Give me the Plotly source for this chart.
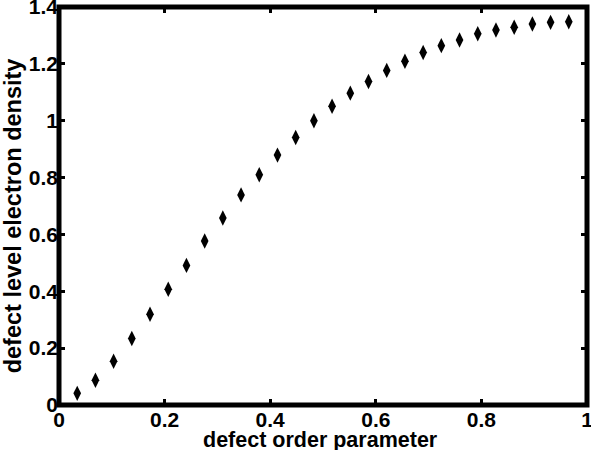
import plotly.graph_objects as go

order_param = [0.0345, 0.0690, 0.1034, 0.1379, 0.1724, 0.2069, 0.2414, 0.2759,
               0.3103, 0.3448, 0.3793, 0.4138, 0.4483, 0.4828, 0.5172, 0.5517,
               0.5862, 0.6207, 0.6552, 0.6897, 0.7241, 0.7586, 0.7931, 0.8276,
               0.8621, 0.8966, 0.9310, 0.9655]
electron_density = [0.041, 0.087, 0.154, 0.234, 0.319, 0.407, 0.491, 0.577,
                    0.658, 0.739, 0.810, 0.879, 0.941, 1.000, 1.051, 1.097,
                    1.138, 1.177, 1.209, 1.240, 1.264, 1.284, 1.306, 1.319,
                    1.329, 1.340, 1.346, 1.348]
x_title = "defect order parameter"
y_title = "defect level electron density"

family = "Liberation Sans, Arial, sans-serif"
tick_font = dict(family=family, size=21, color="black", weight="bold")

fig = go.Figure(go.Scatter(
    x=order_param, y=electron_density, mode="markers",
    marker=dict(symbol="diamond-tall", size=11, color="black"),
    showlegend=False, cliponaxis=False,
))

axis_common = dict(
    showgrid=False, zeroline=False, showline=False, automargin=False,
    mirror="allticks", ticks="inside", ticklen=6, tickwidth=3, tickcolor="black",
    dtick=0.2, tickfont=tick_font, ticklabeloverflow="allow",
)

fig.update_layout(
    width=591, height=450,
    margin=dict(l=59, r=4, t=7, b=45),
    plot_bgcolor="white", paper_bgcolor="white",
    font=tick_font,
    xaxis=dict(range=[0, 1], ticklabelstandoff=0, **axis_common),
    yaxis=dict(range=[0, 1.4], ticklabelstandoff=0, **axis_common),
    shapes=[dict(type="rect", xref="paper", yref="paper", x0=0, x1=1, y0=0, y1=1,
                 line=dict(color="black", width=5), layer="above")],
    annotations=[
        dict(text=x_title, xref="paper", yref="paper", x=0.495, y=0,
             xanchor="center", yanchor="top", yshift=-21, showarrow=False,
             font=dict(family=family, size=21.5, color="black", weight="bold")),
        dict(text=y_title, xref="paper", yref="paper", x=0, y=0.474,
             xanchor="center", yanchor="middle", xshift=-46, textangle=-90, showarrow=False,
             font=dict(family=family, size=23.5, color="black", weight="bold")),
    ],
)

fig.write_html("out.html")
